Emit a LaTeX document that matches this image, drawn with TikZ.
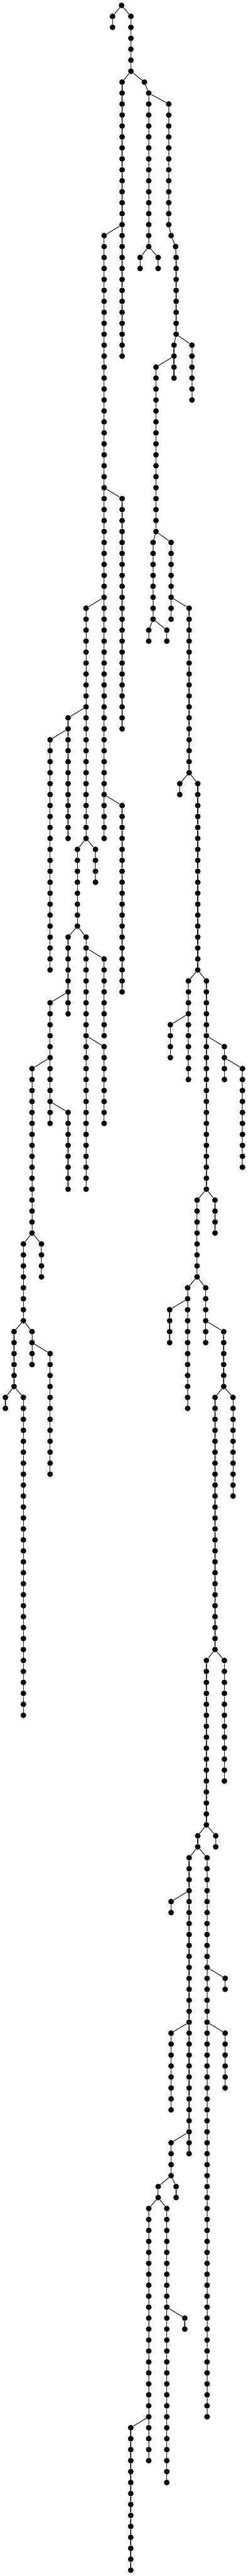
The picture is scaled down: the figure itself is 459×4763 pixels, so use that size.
\documentclass[tikz,border=0pt]{standalone}
\tikzset{
  dotnode/.style={circle,fill=black,draw=none,inner sep=0pt,minimum size=7.9pt},
  edgeline/.style={draw=black,line width=0.8pt}
}
\newcommand{\dotchain}[4]{%
  \foreach \k in {#3,...,#4}{\node[dotnode] (#1-\k) at (#2,{10+20.266*\k}) {};}%
  \ifnum#3<#4\relax
    \pgfmathtruncatemacro\chainnext{#3+1}%
    \foreach \k in {\chainnext,...,#4}{\pgfmathtruncatemacro\kprev{\k-1}\draw[edgeline] (#1-\kprev) -- (#1-\k);}%
  \fi}
\newcommand{\tlink}[2]{\draw[edgeline] (#1) -- (#2);}
\begin{document}
\begin{tikzpicture}[x=0.75pt,y=-0.75pt]
\fill[white] (0,0) rectangle (459,4763);
\useasboundingbox (0,0) rectangle (459,4763);
% right / central part
\dotchain{c0}{225.0}{0}{0}
\dotchain{cA}{208.3}{1}{2}
\dotchain{cB}{242.3}{1}{6}
\dotchain{cC}{226.0}{7}{32}
\dotchain{cD}{267.3}{7}{7}
\dotchain{cE}{275.3}{8}{22}
\dotchain{cEa}{259.3}{23}{24}
\dotchain{cEb}{292.7}{23}{24}
\dotchain{cG}{312.3}{9}{20}
\dotchain{cGa}{316.7}{21}{21}
\dotchain{cGb}{325.0}{22}{22}
\dotchain{cGc}{326.0}{23}{30}
\dotchain{cH}{322.0}{31}{34}
\dotchain{cI}{355.3}{31}{36}
\dotchain{cJ}{288.7}{33}{48}
\dotchain{cK}{283.3}{49}{56}
\dotchain{cKa}{275.3}{57}{58}
\dotchain{cKb}{308.7}{57}{58}
\dotchain{cL}{316.7}{49}{56}
\dotchain{cM}{350.0}{55}{70}
\dotchain{cN}{332.7}{71}{72}
\dotchain{cO}{366.0}{71}{88}
\dotchain{cP}{348.7}{89}{98}
\dotchain{cQ}{382.0}{89}{108}
\dotchain{cR}{315.3}{93}{96}
\dotchain{cS}{415.3}{95}{98}
\dotchain{cT}{448.7}{97}{106}
\dotchain{cU}{364.7}{109}{116}
\dotchain{cV}{398.0}{109}{112}
\dotchain{cW}{347.3}{117}{128}
\dotchain{cX}{380.7}{117}{122}
\dotchain{cY}{314.0}{119}{122}
\dotchain{cZ}{414.0}{121}{126}
\dotchain{cZa}{398.0}{127}{150}
\dotchain{cZb}{431.3}{127}{136}
\dotchain{dA}{382.0}{151}{166}
\dotchain{dB}{415.3}{151}{162}
\dotchain{dC}{366.0}{167}{168}
\dotchain{dD}{399.3}{167}{168}
\dotchain{dE}{350.0}{169}{196}
\dotchain{dF}{383.3}{169}{220}
\dotchain{dG}{316.7}{173}{174}
\dotchain{dH}{316.7}{185}{192}
\dotchain{dI}{316.7}{195}{198}
\dotchain{dJ}{292.7}{199}{200}
\dotchain{dK}{326.0}{199}{200}
\dotchain{dL}{275.3}{201}{224}
\dotchain{dM}{308.7}{201}{226}
\dotchain{dN}{342.0}{211}{212}
\dotchain{dO}{242.0}{221}{234}
\dotchain{dP}{416.7}{180}{181}
\dotchain{dQ}{416.7}{185}{190}
% left part
\dotchain{cF}{192.7}{21}{76}
\dotchain{fA}{226.0}{45}{66}
\dotchain{fB}{159.3}{55}{76}
\dotchain{fC}{226.0}{73}{90}
\dotchain{fD}{126.0}{65}{76}
\dotchain{fE}{92.7}{67}{88}
\dotchain{fF}{143.3}{77}{84}
\dotchain{fG}{176.7}{77}{80}
\dotchain{fH}{126.0}{85}{92}
\dotchain{fI}{159.3}{85}{108}
\dotchain{fJ}{92.7}{91}{102}
\dotchain{fK}{59.3}{97}{112}
\dotchain{fL}{126.0}{101}{108}
\dotchain{fM}{192.7}{87}{94}
\dotchain{fN}{192.7}{95}{102}
\dotchain{fO}{43.3}{113}{120}
\dotchain{fP}{76.7}{113}{116}
\dotchain{fQ}{26.0}{121}{126}
\dotchain{fR}{59.3}{121}{124}
\dotchain{fS}{92.7}{123}{134}
\dotchain{fT}{10.0}{127}{128}
\dotchain{fU}{43.3}{127}{156}
% branch links
\tlink{c0-0}{cA-1}
\tlink{c0-0}{cB-1}
\tlink{cB-6}{cC-7}
\tlink{cB-6}{cD-7}
\tlink{cD-7}{cE-8}
\tlink{cE-8}{cG-9}
\tlink{cE-22}{cEa-23}
\tlink{cE-22}{cEb-23}
\tlink{cG-20}{cGa-21}
\tlink{cGa-21}{cGb-22}
\tlink{cGb-22}{cGc-23}
\tlink{cGc-30}{cH-31}
\tlink{cGc-30}{cI-31}
\tlink{cH-32}{cJ-33}
\tlink{cJ-48}{cK-49}
\tlink{cJ-48}{cL-49}
\tlink{cK-56}{cKa-57}
\tlink{cK-56}{cKb-57}
\tlink{cL-54}{cM-55}
\tlink{cM-70}{cN-71}
\tlink{cM-70}{cO-71}
\tlink{cO-88}{cP-89}
\tlink{cO-88}{cQ-89}
\tlink{cP-92}{cR-93}
\tlink{cQ-94}{cS-95}
\tlink{cS-96}{cT-97}
\tlink{cQ-108}{cU-109}
\tlink{cQ-108}{cV-109}
\tlink{cU-116}{cW-117}
\tlink{cU-116}{cX-117}
\tlink{cW-118}{cY-119}
\tlink{cX-120}{cZ-121}
\tlink{cZ-126}{cZa-127}
\tlink{cZ-126}{cZb-127}
\tlink{cZa-150}{dA-151}
\tlink{cZa-150}{dB-151}
\tlink{dA-166}{dC-167}
\tlink{dA-166}{dD-167}
\tlink{dC-168}{dE-169}
\tlink{dC-168}{dF-169}
\tlink{dE-172}{dG-173}
\tlink{dE-184}{dH-185}
\tlink{dE-194}{dI-195}
\tlink{dI-198}{dJ-199}
\tlink{dI-198}{dK-199}
\tlink{dJ-200}{dL-201}
\tlink{dJ-200}{dM-201}
\tlink{dM-210}{dN-211}
\tlink{dL-220}{dO-221}
\tlink{dF-179}{dP-180}
\tlink{dF-184}{dQ-185}
\tlink{cC-20}{cF-21}
\tlink{cF-44}{fA-45}
\tlink{cF-54}{fB-55}
\tlink{cF-72}{fC-73}
\tlink{fB-64}{fD-65}
\tlink{fD-66}{fE-67}
\tlink{fB-76}{fF-77}
\tlink{fB-76}{fG-77}
\tlink{fF-84}{fH-85}
\tlink{fF-84}{fI-85}
\tlink{fH-90}{fJ-91}
\tlink{fJ-96}{fK-97}
\tlink{fJ-100}{fL-101}
\tlink{fI-86}{fM-87}
\tlink{fI-94}{fN-95}
\tlink{fK-112}{fO-113}
\tlink{fK-112}{fP-113}
\tlink{fO-120}{fQ-121}
\tlink{fO-120}{fR-121}
\tlink{fR-122}{fS-123}
\tlink{fQ-126}{fT-127}
\tlink{fQ-126}{fU-127}
\end{tikzpicture}
\end{document}
